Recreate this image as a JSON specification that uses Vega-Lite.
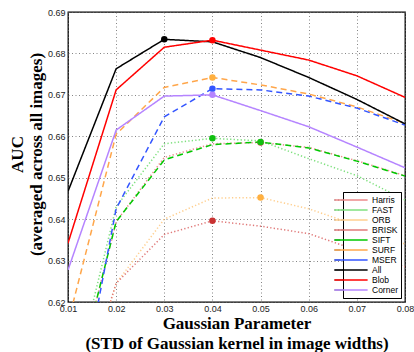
{
  "$schema": "https://vega.github.io/schema/vega-lite/v6.json",
  "width": 337,
  "height": 290,
  "autosize": {"type": "none"},
  "padding": {"left": 68, "top": 12, "right": 9, "bottom": 50},
  "background": "white",
  "config": {
    "view": {"stroke": "black", "strokeWidth": 1.3},
    "axis": {
      "labelFont": "Liberation Sans",
      "labelFontSize": 9,
      "labelColor": "#222",
      "labelFlush": false,
      "labelOverlap": false,
      "labelPadding": 3,
      "domain": false,
      "ticks": false,
      "grid": true,
      "gridColor": "#666",
      "gridDash": [1, 2.5],
      "gridWidth": 0.8,
      "gridOpacity": 1,
      "titleFont": "Liberation Serif",
      "titleFontSize": 17,
      "titleFontWeight": "bold",
      "titleColor": "black"
    },
    "legend": {
      "orient": "none",
      "legendX": 275,
      "legendY": 180,
      "strokeColor": "black",
      "strokeWidth": 1,
      "fillColor": "white",
      "padding": 3,
      "labelFont": "Liberation Sans",
      "labelFontSize": 8.5,
      "labelColor": "black",
      "labelOffset": 16,
      "rowPadding": 0,
      "symbolType": "M-4,0H4",
      "symbolSize": 69,
      "cornerRadius": 0
    }
  },
  "data": {
    "values": [
      {"method": "Harris", "sigma": 0.01, "auc": 0.5930},
      {"method": "Harris", "sigma": 0.02, "auc": 0.6394},
      {"method": "Harris", "sigma": 0.03, "auc": 0.6549},
      {"method": "Harris", "sigma": 0.04, "auc": 0.6582},
      {"method": "Harris", "sigma": 0.05, "auc": 0.6585},
      {"method": "Harris", "sigma": 0.06, "auc": 0.6573},
      {"method": "Harris", "sigma": 0.07, "auc": 0.6541},
      {"method": "Harris", "sigma": 0.08, "auc": 0.6505},
      {"method": "FAST", "sigma": 0.01, "auc": 0.5950},
      {"method": "FAST", "sigma": 0.02, "auc": 0.6430},
      {"method": "FAST", "sigma": 0.03, "auc": 0.6582},
      {"method": "FAST", "sigma": 0.04, "auc": 0.6595},
      {"method": "FAST", "sigma": 0.05, "auc": 0.6589},
      {"method": "FAST", "sigma": 0.06, "auc": 0.6546},
      {"method": "FAST", "sigma": 0.07, "auc": 0.6505},
      {"method": "FAST", "sigma": 0.08, "auc": 0.6446},
      {"method": "ORB", "sigma": 0.01, "auc": 0.5870},
      {"method": "ORB", "sigma": 0.02, "auc": 0.6245},
      {"method": "ORB", "sigma": 0.03, "auc": 0.6400},
      {"method": "ORB", "sigma": 0.04, "auc": 0.6451},
      {"method": "ORB", "sigma": 0.05, "auc": 0.6452},
      {"method": "ORB", "sigma": 0.06, "auc": 0.6425},
      {"method": "ORB", "sigma": 0.07, "auc": 0.6385},
      {"method": "ORB", "sigma": 0.08, "auc": 0.6340},
      {"method": "BRISK", "sigma": 0.01, "auc": 0.5870},
      {"method": "BRISK", "sigma": 0.02, "auc": 0.6245},
      {"method": "BRISK", "sigma": 0.03, "auc": 0.6363},
      {"method": "BRISK", "sigma": 0.04, "auc": 0.6396},
      {"method": "BRISK", "sigma": 0.05, "auc": 0.6383},
      {"method": "BRISK", "sigma": 0.06, "auc": 0.6365},
      {"method": "BRISK", "sigma": 0.07, "auc": 0.6325},
      {"method": "BRISK", "sigma": 0.08, "auc": 0.6285},
      {"method": "SIFT", "sigma": 0.01, "auc": 0.5930},
      {"method": "SIFT", "sigma": 0.02, "auc": 0.6394},
      {"method": "SIFT", "sigma": 0.03, "auc": 0.6543},
      {"method": "SIFT", "sigma": 0.04, "auc": 0.6580},
      {"method": "SIFT", "sigma": 0.05, "auc": 0.6586},
      {"method": "SIFT", "sigma": 0.06, "auc": 0.6572},
      {"method": "SIFT", "sigma": 0.07, "auc": 0.6540},
      {"method": "SIFT", "sigma": 0.08, "auc": 0.6504},
      {"method": "SURF", "sigma": 0.01, "auc": 0.6150},
      {"method": "SURF", "sigma": 0.02, "auc": 0.6605},
      {"method": "SURF", "sigma": 0.03, "auc": 0.6718},
      {"method": "SURF", "sigma": 0.04, "auc": 0.6742},
      {"method": "SURF", "sigma": 0.05, "auc": 0.6724},
      {"method": "SURF", "sigma": 0.06, "auc": 0.6702},
      {"method": "SURF", "sigma": 0.07, "auc": 0.6671},
      {"method": "SURF", "sigma": 0.08, "auc": 0.6631},
      {"method": "MSER", "sigma": 0.01, "auc": 0.5817},
      {"method": "MSER", "sigma": 0.02, "auc": 0.6425},
      {"method": "MSER", "sigma": 0.03, "auc": 0.6647},
      {"method": "MSER", "sigma": 0.04, "auc": 0.6715},
      {"method": "MSER", "sigma": 0.05, "auc": 0.6712},
      {"method": "MSER", "sigma": 0.06, "auc": 0.6697},
      {"method": "MSER", "sigma": 0.07, "auc": 0.6668},
      {"method": "MSER", "sigma": 0.08, "auc": 0.6627},
      {"method": "All", "sigma": 0.01, "auc": 0.6467},
      {"method": "All", "sigma": 0.02, "auc": 0.6763},
      {"method": "All", "sigma": 0.03, "auc": 0.6834},
      {"method": "All", "sigma": 0.04, "auc": 0.6828},
      {"method": "All", "sigma": 0.05, "auc": 0.6790},
      {"method": "All", "sigma": 0.06, "auc": 0.6742},
      {"method": "All", "sigma": 0.07, "auc": 0.6689},
      {"method": "All", "sigma": 0.08, "auc": 0.6630},
      {"method": "Blob", "sigma": 0.01, "auc": 0.6342},
      {"method": "Blob", "sigma": 0.02, "auc": 0.6712},
      {"method": "Blob", "sigma": 0.03, "auc": 0.6815},
      {"method": "Blob", "sigma": 0.04, "auc": 0.6832},
      {"method": "Blob", "sigma": 0.05, "auc": 0.6808},
      {"method": "Blob", "sigma": 0.06, "auc": 0.6784},
      {"method": "Blob", "sigma": 0.07, "auc": 0.6746},
      {"method": "Blob", "sigma": 0.08, "auc": 0.6694},
      {"method": "Corner", "sigma": 0.01, "auc": 0.6277},
      {"method": "Corner", "sigma": 0.02, "auc": 0.6615},
      {"method": "Corner", "sigma": 0.03, "auc": 0.6697},
      {"method": "Corner", "sigma": 0.04, "auc": 0.6700},
      {"method": "Corner", "sigma": 0.05, "auc": 0.6662},
      {"method": "Corner", "sigma": 0.06, "auc": 0.6623},
      {"method": "Corner", "sigma": 0.07, "auc": 0.6574},
      {"method": "Corner", "sigma": 0.08, "auc": 0.6524}
    ]
  },
  "encoding": {
    "x": {
      "field": "sigma",
      "type": "quantitative",
      "scale": {"domain": [0.01, 0.08], "nice": false, "zero": false},
      "axis": {
        "values": [0.01, 0.02, 0.03, 0.04, 0.05, 0.06, 0.07, 0.08],
        "format": ".2f",
        "labelPadding": 2,
        "title": ["Gaussian Parameter", "(STD of Gaussian kernel in image widths)"],
        "titleLineHeight": 20,
        "titleBaseline": "top",
        "titleY": 13
      }
    },
    "y": {
      "field": "auc",
      "type": "quantitative",
      "scale": {"domain": [0.62, 0.69], "nice": false, "zero": false},
      "axis": {
        "values": [0.62, 0.63, 0.64, 0.65, 0.66, 0.67, 0.68, 0.69],
        "format": ".2f",
        "title": ["AUC", "(averaged across all images)"],
        "titleLineHeight": 19,
        "titleAngle": -90,
        "titleBaseline": "middle",
        "titleAlign": "center",
        "titleX": -51,
        "titleY": 142
      }
    }
  },
  "layer": [
    {
      "mark": {"type": "line", "clip": true},
      "encoding": {
        "color": {
          "field": "method",
          "type": "nominal",
          "title": null,
          "scale": {
            "domain": ["Harris", "FAST", "ORB", "BRISK", "SIFT", "SURF", "MSER", "All", "Blob", "Corner"],
            "range": ["#ec8a8a", "#7fe07f", "#ffcf8f", "#e07a7a", "#00c800", "#ffa64a", "#3355ff", "#000000", "#ff0000", "#b584ff"]
          }
        },
        "strokeDash": {
          "field": "method",
          "type": "nominal",
          "title": null,
          "scale": {
            "domain": ["Harris", "FAST", "ORB", "BRISK", "SIFT", "SURF", "MSER", "All", "Blob", "Corner"],
            "range": [[1.3, 2.2], [1.3, 2.2], [1.3, 2.2], [1.3, 2.2], [6, 4], [6, 4], [6, 4], [1, 0], [1, 0], [1, 0]]
          }
        },
        "strokeWidth": {
          "field": "method",
          "type": "nominal",
          "title": null,
          "scale": {
            "domain": ["Harris", "FAST", "ORB", "BRISK", "SIFT", "SURF", "MSER", "All", "Blob", "Corner"],
            "range": [1.5, 1.5, 1.5, 1.5, 2.6, 2.6, 2.6, 2.6, 2.6, 2.6]
          }
        }
      }
    },
    {
      "transform": [
        {"joinaggregate": [{"op": "max", "field": "auc", "as": "peak"}], "groupby": ["method"]},
        {"filter": "datum.auc === datum.peak"}
      ],
      "mark": {"type": "point", "filled": true, "opacity": 1, "size": 42, "clip": true},
      "encoding": {
        "color": {
          "field": "method",
          "type": "nominal",
          "legend": null,
          "scale": {
            "domain": ["Harris", "FAST", "ORB", "BRISK", "SIFT", "SURF", "MSER", "All", "Blob", "Corner"],
            "range": ["#d04848", "#10c010", "#ffb040", "#c83232", "#10c010", "#ffb040", "#3355ff", "#000000", "#ff0000", "#b584ff"]
          }
        }
      }
    }
  ],
  "resolve": {"scale": {"color": "independent"}}
}
